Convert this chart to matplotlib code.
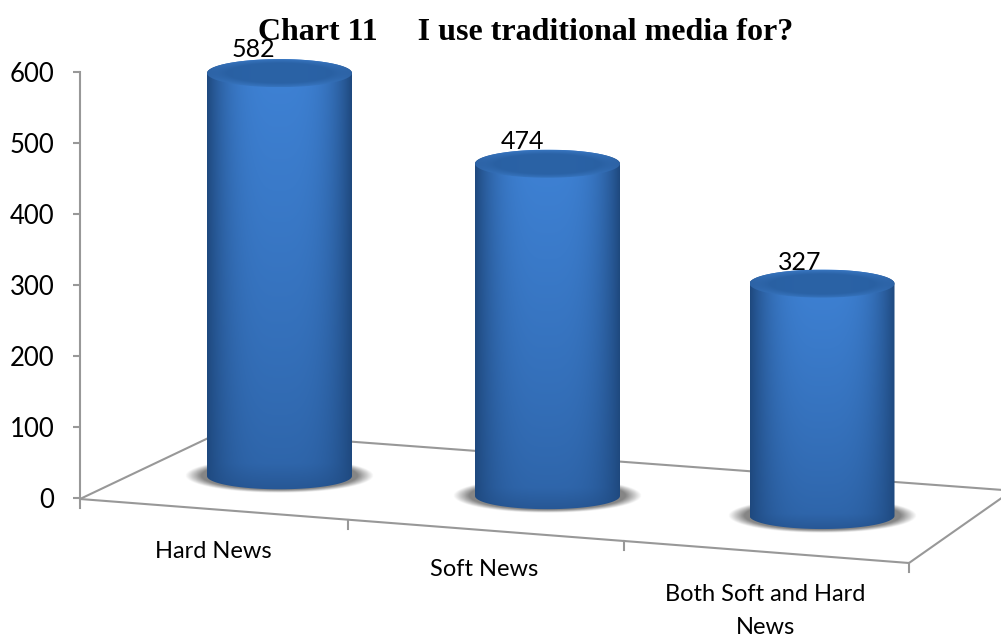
import numpy as np
import matplotlib
matplotlib.use('Agg')
import matplotlib.pyplot as plt
from matplotlib.patches import PathPatch
from matplotlib.path import Path

categories = ['Hard News', 'Soft News', 'Both Soft and Hard\nNews']
values = [582, 474, 327]
y_ticks = [0, 100, 200, 300, 400, 500, 600]

# the floor is drawn in perspective: each bar sits at its own depth
bar_pos = [0, 0.988, 2]
base_offset = [31, 3, -25]
depth_scale = [0.975, 0.987, 1.0]
value_label_dx = [-19, -18, -16]
category_label_pos = [(213, 552), (484, 570), (765, 611)]

X0, DX = 279.5, 271.25   # pixel of the first category, pixels per category
Y0, DY = 498.0, 0.71     # pixel of value 0, pixels per unit
RADIUS = 72.5 / DX
CAP = 14 / DY
W, H = 1001, 637


def fx(px):
    return (px - X0) / DX


def fy(py):
    return (Y0 - py) / DY


def ellipse_arc(cx, cy, a, b, t0, t1, n=80):
    t = np.linspace(t0, t1, n)
    return cx + a * np.cos(t), cy + b * np.sin(t)


def clipped_image(ax, rgb, extent, path, zorder):
    im = ax.imshow(rgb, extent=extent, aspect='auto', origin='lower',
                   interpolation='bilinear', zorder=zorder)
    patch = PathPatch(path, transform=ax.transData, fc='none', ec='none')
    ax.add_patch(patch)
    im.set_clip_path(patch)


def mix(c0, c1, t):
    c0, c1 = np.array(c0), np.array(c1)
    return c0 + (c1 - c0) * t[..., None]


plt.rcParams['font.family'] = ['Lato', 'DejaVu Sans']
fig = plt.figure(figsize=(W / 100, H / 100), dpi=100)
ax = fig.add_axes([0, 0, 1, 1])
ax.set_facecolor('white')

GREY = '#989898'

# value axis
for s in ['top', 'right', 'bottom']:
    ax.spines[s].set_visible(False)
ax.spines['left'].set_position(('data', fx(79.5)))
ax.spines['left'].set_bounds(0, 600)
ax.spines['left'].set_color(GREY)
ax.spines['left'].set_linewidth(1.5)
ax.set_yticks(y_ticks)
ax.tick_params(axis='y', length=5.2, width=1.5, color=GREY, pad=13,
               labelsize=18.5, labelcolor='black')
ax.set_xticks([])

# floor outline
floor_front = [(80, 499), (909, 563)]
floor_left = [(80, 499), (221, 432)]
floor_back = [(221, 432), (1003, 490)]
floor_right = [(909, 563), (1003, 497)]
for seg in [floor_front, floor_left, floor_back, floor_right]:
    ax.plot([fx(p[0]) for p in seg], [fy(p[1]) for p in seg], color=GREY, lw=1.5,
            solid_capstyle='round', zorder=1)
for px, py in [(79.5, 499), (348, 520), (624, 541), (909, 563)]:
    ax.plot([fx(px), fx(px)], [fy(py), fy(py + 9)], color=GREY, lw=1.5, zorder=1)

for i, (name, val) in enumerate(zip(categories, values)):
    pos = bar_pos[i]
    base = base_offset[i]
    top = base + val * depth_scale[i]

    # soft shadow on the floor
    nx, ny = 220, 80
    xx, yy = np.meshgrid(np.linspace(-1, 1, nx), np.linspace(-1, 1, ny))
    rr = np.sqrt(xx ** 2 + yy ** 2)
    alpha = np.clip((1 - rr) / 0.17, 0, 1) * 0.68
    shadow = np.zeros((ny, nx, 4))
    shadow[..., :3] = 0.30
    shadow[..., 3] = alpha
    sa = RADIUS * 1.3
    sb = CAP * 1.25
    ax.imshow(shadow, extent=[pos - sa, pos + sa, base - sb, base + sb], aspect='auto',
              origin='lower', interpolation='bilinear', zorder=2)

    # cylinder side: dark edges, light middle, fading towards the foot
    xs, ys = ellipse_arc(pos, base, RADIUS, CAP * 0.95, np.pi, 2 * np.pi)
    xt, yt = ellipse_arc(pos, top, RADIUS, CAP, 0, np.pi)
    verts = np.column_stack([np.r_[xs, xt], np.r_[ys, yt]])
    verts = np.vstack([verts, verts[0]])
    side_path = Path(verts, [Path.MOVETO] + [Path.LINETO] * (len(verts) - 2) + [Path.CLOSEPOLY])

    ux, uy = np.meshgrid(np.linspace(-1, 1, 200), np.linspace(0, 1, 200))
    shade = np.abs(ux) ** 3.2
    light = mix((0.175, 0.385, 0.650), (0.245, 0.510, 0.835), uy ** 0.8)
    edge = np.array((0.120, 0.285, 0.495))
    rgb = light + (edge - light) * shade[..., None]
    foot = np.clip(1 - uy / 0.06, 0, 1)[..., None]
    rgb = rgb + (np.array((0.13, 0.30, 0.52)) - rgb) * foot * 0.5
    clipped_image(ax, np.clip(rgb, 0, 1),
                  [pos - RADIUS, pos + RADIUS, base - CAP, top + CAP], side_path, 3)

    # cylinder cap with a slightly lighter bevel
    xc, yc = ellipse_arc(pos, top, RADIUS, CAP, 0, 2 * np.pi)
    cap_verts = np.column_stack([xc, yc])
    cap_path = Path(cap_verts, [Path.MOVETO] + [Path.LINETO] * (len(cap_verts) - 2) + [Path.CLOSEPOLY])
    ux, uy = np.meshgrid(np.linspace(-1, 1, 200), np.linspace(-1, 1, 80))
    rr = np.sqrt(ux ** 2 + uy ** 2)
    cap_rgb = mix((0.165, 0.385, 0.650), (0.215, 0.455, 0.745), np.clip((rr - 0.72) / 0.28, 0, 1))
    edge_dark = np.abs(ux) ** 4
    cap_rgb = cap_rgb + (np.array((0.15, 0.34, 0.58)) - cap_rgb) * edge_dark[..., None] * 0.6
    clipped_image(ax, np.clip(cap_rgb, 0, 1),
                  [pos - RADIUS, pos + RADIUS, top - CAP, top + CAP], cap_path, 4)

    # value above the cap, set off to the left as the chart places it
    ax.annotate(str(val), xy=(pos, top), xytext=(value_label_dx[i], 17 - i * 0.8), textcoords='offset points',
                ha='center', va='center', fontsize=18, color='black', zorder=6)

    px, py = category_label_pos[i]
    ax.text(fx(px), fy(py), name, ha='center', va='center', fontsize=17, color='black',
            linespacing=1.75, zorder=6)

ax.text(fx(525.5), fy(33), 'Chart 11     I use traditional media for?', ha='center', va='center',
        family='Liberation Serif', fontweight='bold', fontsize=23, color='black', zorder=7)

ax.set_xlim(fx(0), fx(W))
ax.set_ylim(fy(H), fy(0))

fig.savefig('out.png', dpi=100, facecolor='white')
